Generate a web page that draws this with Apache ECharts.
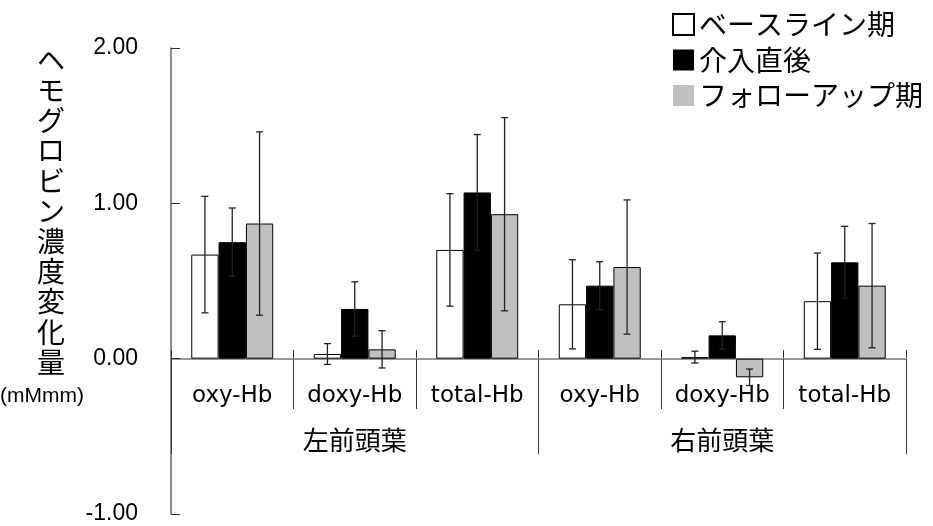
<!DOCTYPE html>
<html>
<head>
<meta charset="utf-8">
<script src="https://cdn.jsdelivr.net/npm/echarts@6/dist/echarts.min.js"></script>
<style>
html,body{margin:0;padding:0;background:#fff;}
#chart{width:933px;height:526px;}
</style>
</head>
<body>
<div id="chart"></div>
<script>
// ---- data ----
const subCategories = ['oxy-Hb', 'doxy-Hb', 'total-Hb', 'oxy-Hb', 'doxy-Hb', 'total-Hb'];
const regions = ['左前頭葉', '右前頭葉'];
const seriesNames = ['ベースライン期', '介入直後', 'フォローアップ期'];
const baseline = [0.67, 0.03, 0.70, 0.35, 0.01, 0.37];
const postIntervention = [0.75, 0.32, 1.07, 0.47, 0.15, 0.62];
const followUp = [0.87, 0.06, 0.93, 0.59, -0.12, 0.47];
const errBaseline = [0.375, 0.067, 0.362, 0.287, 0.038, 0.31];
const errPost = [0.22, 0.175, 0.373, 0.154, 0.088, 0.232];
const errFollow = [0.59, 0.12, 0.622, 0.432, 0.053, 0.40];
const yTicks = [-1, 0, 1, 2];
const yAxisTitle = 'ヘモグロビン濃度変化量';
const yAxisUnit = '(mMmm)';

const values = [baseline, postIntervention, followUp];
const errors = [errBaseline, errPost, errFollow];
const fills = ['#ffffff', '#000000', '#c0c0c0'];
const BAR_FRAC = 0.223;

const errData = [];
values.forEach((arr, s) => arr.forEach((v, c) => errData.push([c, v, errors[s][c], s])));

const chart = echarts.init(document.getElementById('chart'));
const jp = "'Noto Sans CJK JP', sans-serif";

const barSeries = values.map((arr, s) => ({
  name: seriesNames[s],
  type: 'bar',
  xAxisIndex: 0,
  yAxisIndex: 0,
  data: arr,
  barWidth: (BAR_FRAC * 100) + '%',
  barGap: '0%',
  itemStyle: { color: fills[s], borderColor: '#000', borderWidth: 1 },
  z: 2
}));

chart.setOption({
  animation: false,
  backgroundColor: '#fff',
  grid: [
    { left: 171, right: 27, top: 48, bottom: 12, containLabel: false, outerBoundsMode: 'none' },
    { left: 171, right: 27, top: 358, height: 1, containLabel: false, outerBoundsMode: 'none' }
  ],
  legend: {
    orient: 'vertical',
    left: 672,
    top: 9,
    padding: 0,
    itemWidth: 21,
    itemHeight: 21,
    itemGap: 4.5,
    icon: 'rect',
    textStyle: { fontSize: 28, lineHeight: 31, color: '#000', fontFamily: jp },
    data: [
      { name: seriesNames[0], itemStyle: { color: '#fff', borderColor: '#000', borderWidth: 2 } },
      { name: seriesNames[1], itemStyle: { color: '#000', borderWidth: 0 } },
      { name: seriesNames[2], itemStyle: { color: '#c0c0c0', borderWidth: 0 } }
    ]
  },
  xAxis: [
    {
      gridIndex: 0,
      type: 'category',
      data: subCategories,
      axisLine: { onZero: true, lineStyle: { color: '#777', width: 1.5 } },
      axisTick: { show: false },
      axisLabel: { show: false },
      splitLine: { show: false }
    },
    {
      gridIndex: 1,
      type: 'category',
      data: subCategories,
      position: 'bottom',
      axisLine: { show: false },
      axisTick: { show: true, interval: 0, length: 50, lineStyle: { color: '#333', width: 1 } },
      axisLabel: { interval: 0, margin: 26, fontSize: 23, lineHeight: 23, color: '#000', fontFamily: "'DejaVu Sans', sans-serif" },
      splitLine: { show: false }
    },
    {
      gridIndex: 1,
      type: 'category',
      data: regions,
      position: 'bottom',
      offset: 0,
      axisLine: { show: false },
      axisTick: { show: true, interval: 0, length: 95, lineStyle: { color: '#333', width: 1 } },
      axisLabel: { interval: 0, margin: 68, fontSize: 26, lineHeight: 26, color: '#000', fontFamily: jp },
      splitLine: { show: false }
    },
    {
      gridIndex: 1,
      type: 'category',
      data: subCategories,
      position: 'top',
      axisLine: { show: false },
      axisTick: { show: true, interval: 0, length: 8, lineStyle: { color: '#333', width: 1 } },
      axisLabel: { show: false },
      splitLine: { show: false }
    }
  ],
  yAxis: [
    {
      gridIndex: 0,
      type: 'value',
      min: yTicks[0],
      max: yTicks[yTicks.length - 1],
      interval: 1,
      axisLine: { show: true, lineStyle: { color: '#666', width: 1.5 } },
      axisTick: { show: true, inside: true, length: 9, lineStyle: { color: '#333' } },
      axisLabel: {
        margin: 33, fontSize: 23, color: '#000', fontFamily: "'Liberation Sans', Arial, sans-serif",
        formatter: v => v.toFixed(2)
      },
      splitLine: { show: false }
    },
    {
      gridIndex: 1,
      type: 'value',
      show: false,
      min: 0,
      max: 1
    }
  ],
  graphic: [
    {
      type: 'text',
      left: 37,
      top: 45,
      style: {
        text: yAxisTitle.split('').join('\n'),
        fontSize: 28, lineHeight: 30.2, fill: '#000', fontFamily: jp, align: 'center'
      }
    },
    {
      type: 'text',
      left: 0,
      top: 386,
      style: {
        text: yAxisUnit,
        fontSize: 21, fill: '#000', fontFamily: "'Liberation Sans', Arial, sans-serif"
      }
    }
  ],
  series: barSeries.concat([{
    type: 'custom',
    name: 'error',
    xAxisIndex: 0,
    yAxisIndex: 0,
    z: 5,
    silent: true,
    encode: { x: 0, y: 1 },
    data: errData,
    renderItem: function (params, api) {
      const c = api.value(0), v = api.value(1), e = api.value(2), s = api.value(3);
      const catW = api.size([1, 0])[0];
      const bw = catW * BAR_FRAC;
      const x = api.coord([c, v])[0] + (s - 1) * bw;
      const yTop = api.coord([c, v + e])[1];
      const yBot = api.coord([c, v - e])[1];
      const cap = 3.5;
      const st = { stroke: '#222', lineWidth: 1.3 };
      return {
        type: 'group',
        children: [
          { type: 'line', shape: { x1: x, y1: yTop, x2: x, y2: yBot }, style: st },
          { type: 'line', shape: { x1: x - cap, y1: yTop, x2: x + cap, y2: yTop }, style: st },
          { type: 'line', shape: { x1: x - cap, y1: yBot, x2: x + cap, y2: yBot }, style: st }
        ]
      };
    }
  }])
});
</script>
</body>
</html>
